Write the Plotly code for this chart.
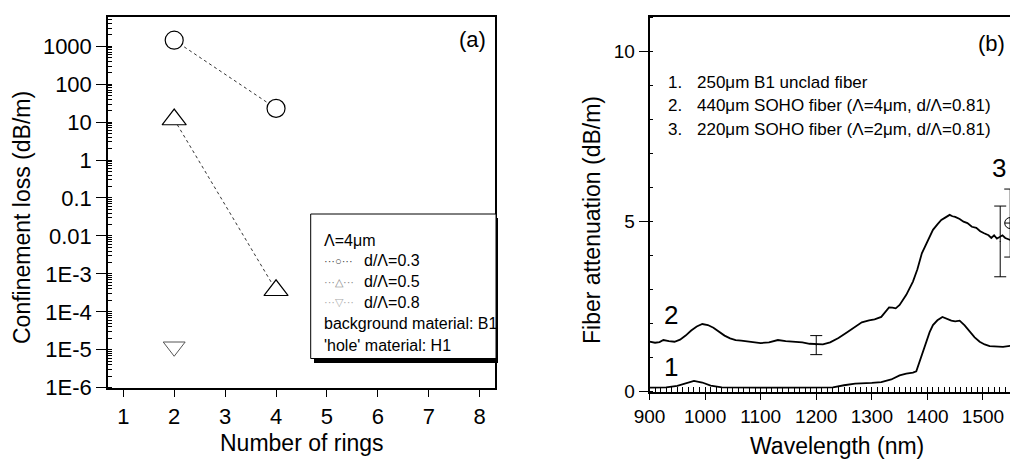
import plotly.graph_objects as go

FONT = "Liberation Sans, Arial, Helvetica, sans-serif"
W, H = 1018, 459
OFF = 8  # page body margin of the exported html

# ---------------- Panel (a) data ----------------
rings = [2, 4]
loss_03 = [1440, 23]
loss_05 = [11.7, 3.7e-4]
rings_08 = [2]
loss_08 = [1.2e-5]
a_tickvals = [1e-6, 1e-5, 1e-4, 1e-3, 0.01, 0.1, 1, 10, 100, 1000]
a_ticktext = ["1E-6", "1E-5", "1E-4", "1E-3", "0.01", "0.1", "1", "10", "100", "1000"]
a_xticks = [1, 2, 3, 4, 5, 6, 7, 8]
legend_title = "\u039b=4\u03bcm"
legend_names = ["d/\u039b=0.3", "d/\u039b=0.5", "d/\u039b=0.8"]
legend_syms = ["\u25cb", "\u25b3", "\u25bd"]
legend_notes = ["background material: B1", "'hole' material: H1"]

# ---------------- Panel (b) data ----------------
wl1 = [900, 930, 950, 965, 980, 995, 1010, 1030, 1060, 1100, 1150, 1200, 1230, 1250,
       1270, 1300, 1317, 1335, 1350, 1362, 1374, 1380, 1386, 1392, 1398, 1404, 1410,
       1418, 1427, 1435, 1443, 1450, 1458, 1467, 1476, 1485, 1494, 1503, 1512, 1525,
       1536, 1550, 1565]
att1 = [0.12, 0.13, 0.17, 0.24, 0.32, 0.27, 0.18, 0.13, 0.12, 0.12, 0.12, 0.12, 0.13, 0.19,
        0.24, 0.26, 0.28, 0.36, 0.48, 0.53, 0.56, 0.6, 0.9, 1.2, 1.52, 1.75, 1.96,
        2.1, 2.2, 2.14, 2.09, 2.07, 2.09, 1.95, 1.76, 1.6, 1.47, 1.39, 1.34, 1.32,
        1.32, 1.35, 1.40]

wl2 = [900, 910, 918, 925, 935, 945, 955, 965, 975, 985, 995, 1005, 1015, 1025, 1035,
       1045, 1055, 1065, 1080, 1100, 1115, 1131, 1145, 1160, 1175, 1188, 1200, 1212,
       1225, 1240, 1255, 1270, 1282, 1295, 1305, 1317, 1325, 1331, 1337, 1343, 1350,
       1362, 1374, 1382, 1390, 1400, 1410, 1418, 1425, 1432, 1440, 1445, 1450, 1458,
       1465, 1472, 1480, 1488, 1495, 1502, 1510, 1515, 1520, 1525, 1530, 1535, 1540,
       1548, 1556, 1565]
att2 = [1.47, 1.44, 1.46, 1.52, 1.49, 1.47, 1.53, 1.65, 1.8, 1.92, 1.99, 1.96, 1.88, 1.76,
        1.65, 1.57, 1.52, 1.5, 1.47, 1.43, 1.45, 1.52, 1.49, 1.47, 1.45, 1.41, 1.39, 1.39,
        1.45, 1.58, 1.74, 1.9, 2.04, 2.1, 2.13, 2.2, 2.38, 2.48, 2.47, 2.45, 2.55,
        2.85, 3.24, 3.6, 4.07, 4.42, 4.76, 4.92, 5.05, 5.12, 5.2, 5.16, 5.14, 5.08,
        5.0, 4.96, 4.85, 4.82, 4.72, 4.66, 4.6, 4.52, 4.6, 4.5, 4.55, 4.6, 4.52,
        4.47, 4.42, 4.36]

err2_x = [1200, 1531]
err2_y = [1.37, 4.42]
err2_e = [0.28, 1.04]
pt3_x = [1549]
pt3_y = [4.96]
pt3_e = [1.0]

fig = go.Figure()

# Panel (a) traces
fig.add_trace(go.Scatter(x=rings, y=loss_03, mode="lines+markers", xaxis="x", yaxis="y",
                         line=dict(color="#333", width=1, dash="dot"),
                         marker=dict(symbol="circle", size=18, color="white",
                                     line=dict(color="black", width=1.2)),
                         showlegend=False))
fig.add_trace(go.Scatter(x=rings, y=loss_05, mode="lines+markers", xaxis="x", yaxis="y",
                         line=dict(color="#333", width=1, dash="dot"),
                         marker=dict(symbol="triangle-up", size=21, color="white",
                                     line=dict(color="black", width=1.2)),
                         showlegend=False))
fig.add_trace(go.Scatter(x=rings_08, y=loss_08, mode="markers", xaxis="x", yaxis="y",
                         marker=dict(symbol="triangle-down", size=19, color="white",
                                     line=dict(color="#555", width=1)),
                         showlegend=False))

# Panel (b) traces
fig.add_trace(go.Scatter(x=wl1, y=att1, mode="lines", xaxis="x2", yaxis="y2",
                         line=dict(color="black", width=1.8), showlegend=False))
fig.add_trace(go.Scatter(x=wl2, y=att2, mode="lines", xaxis="x2", yaxis="y2",
                         line=dict(color="black", width=1.8), showlegend=False))
fig.add_trace(go.Scatter(x=err2_x, y=err2_y, mode="markers", xaxis="x2", yaxis="y2",
                         marker=dict(size=1, color="black"),
                         error_y=dict(type="data", array=err2_e, visible=True,
                                      color="black", thickness=1, width=6),
                         showlegend=False))
fig.add_trace(go.Scatter(x=pt3_x, y=pt3_y, mode="markers", xaxis="x2", yaxis="y2",
                         marker=dict(symbol="circle-cross-open", size=11, color="black",
                                     line=dict(width=1)),
                         error_y=dict(type="data", array=pt3_e, visible=True,
                                      color="black", thickness=1, width=6),
                         showlegend=False))

def px_x(v):
    return (v - OFF) / W

def px_y(v):
    return 1 - (v - OFF) / H

axis_common = dict(showline=True, linecolor="black", linewidth=1.5, showgrid=False,
                   zeroline=False, ticks="outside", tickcolor="black", tickwidth=1.2,
                   automargin=False)

fig.update_layout(
    width=W, height=H,
    margin=dict(l=0, r=0, t=0, b=0, pad=0, autoexpand=False),
    paper_bgcolor="white", plot_bgcolor="white",
    font=dict(family=FONT, color="black"),
    showlegend=False,
    xaxis=dict(domain=[px_x(108), px_x(495)], range=[0.7, 8.3], anchor="y",
               tickmode="array", tickvals=a_xticks, ticklen=8, mirror=True,
               tickfont=dict(size=22), **axis_common),
    yaxis=dict(domain=[px_y(387.7), px_y(17)], type="log", range=[-6, 3.77], anchor="x",
               tickmode="array", tickvals=a_tickvals, ticktext=a_ticktext, ticklen=10,
               mirror=True, tickfont=dict(size=22),
               minor=dict(ticks="inside", ticklen=4, dtick="D1", tickcolor="black",
                          showgrid=False),
               **axis_common),
    xaxis2=dict(domain=[px_x(649.5), px_x(1018)], range=[900, 1563], anchor="y2",
                dtick=100, tick0=900, ticklen=7, mirror=True, tickfont=dict(size=19),
                minor=dict(ticks="inside", ticklen=5, dtick=10, tickcolor="black",
                           showgrid=False),
                **axis_common),
    yaxis2=dict(domain=[px_y(391.7), px_y(17)], range=[0, 11.02], anchor="x2",
                tickmode="array", tickvals=[0, 5, 10], ticklen=9, tickfont=dict(size=19),
                minor=dict(ticks="inside", ticklen=4, dtick=1, tickcolor="black",
                           showgrid=False),
                **axis_common),
    shapes=[
        dict(type="rect", xref="paper", yref="paper",
             x0=px_x(314), x1=px_x(498), y0=px_y(363), y1=px_y(218),
             fillcolor="black", line=dict(width=0), layer="above"),
        dict(type="rect", xref="paper", yref="paper",
             x0=px_x(310.7), x1=px_x(496), y0=px_y(358.5), y1=px_y(214),
             fillcolor="white", line=dict(color="black", width=1), layer="above"),
    ],
)

ann = []
def add_text(text, x, y, size, xanchor="center", yanchor="middle", angle=0):
    ann.append(dict(text=text, x=px_x(x), y=px_y(y), xref="paper", yref="paper",
                    showarrow=False, xanchor=xanchor, yanchor=yanchor, textangle=angle,
                    font=dict(size=size, family=FONT, color="black")))

add_text("Confinement loss (dB/m)", 22, 218, 23, angle=-90)
add_text("Number of rings", 302, 443, 23)
add_text("(a)", 472, 39, 22)

# legend block of panel (a)
add_text(legend_title, 322, 240, 16, xanchor="left")
sample_cols = ["#444", "#888", "#aaa"]
for i, (nm, sym) in enumerate(zip(legend_names, legend_syms)):
    yy = 261 + i * 20.5
    add_text("<span style='color:%s'>\u00b7\u00b7\u00b7%s\u00b7\u00b7\u00b7</span>" % (sample_cols[i], sym),
             322, yy, 11, xanchor="left")
    add_text(nm, 362, yy, 16, xanchor="left")
add_text(legend_notes[0], 322, 323, 16, xanchor="left")
add_text(legend_notes[1], 322, 345, 16, xanchor="left")

add_text("Fiber attenuation (dB/m)", 592, 220, 23, angle=-90)
add_text("Wavelength (nm)", 837, 446, 23)
add_text("(b)", 991, 44, 22)
add_text("1.", 666, 83, 17, xanchor="left")
add_text("2.", 666, 106, 17, xanchor="left")
add_text("3.", 666, 129, 17, xanchor="left")
add_text("250\u03bcm B1 unclad fiber", 695, 83, 17, xanchor="left")
add_text("440\u03bcm SOHO fiber (\u039b=4\u03bcm, d/\u039b=0.81)", 695, 106, 17, xanchor="left")
add_text("220\u03bcm SOHO fiber (\u039b=2\u03bcm, d/\u039b=0.81)", 695, 129, 17, xanchor="left")

# curve labels in data coordinates
for t, x, y in [("1", 939, 0.74), ("2", 939, 2.25), ("3", 1529, 6.58)]:
    ann.append(dict(text=t, x=x, y=y, xref="x2", yref="y2", showarrow=False,
                    font=dict(size=26, family=FONT, color="black")))

fig.update_layout(annotations=ann)
fig.write_html("out.html")
